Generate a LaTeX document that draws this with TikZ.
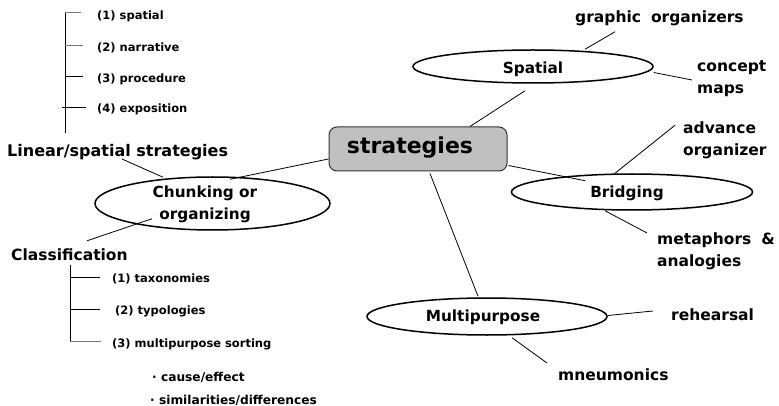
\documentclass[tikz,border=0pt]{standalone}
\usepackage{fontspec}
\setmainfont{DejaVu Sans}[BoldFont={DejaVu Sans Bold}]
\usetikzlibrary{shapes.geometric,calc}
\definecolor{boxgray}{RGB}{192,192,192}
\definecolor{tickgray}{RGB}{120,120,120}
\tikzset{
  ell/.style={draw, ellipse, line width=1.5pt, inner sep=0pt},
  lbl/.style={inner sep=0pt, anchor=west, align=left, font=\bfseries\fontsize{15.5}{22}\selectfont},
  small/.style={inner sep=0pt, anchor=west, font=\bfseries\fontsize{11.5}{14}\selectfont},
  etext/.style={inner sep=0pt, align=center, font=\bfseries\fontsize{15.3}{22}\selectfont},
  conn/.style={line width=0.8pt},
  tree/.style={line width=1pt},
}
\begin{document}
\begin{tikzpicture}[x=1pt,y=-1pt]
\useasboundingbox (0,0) rectangle (779,406);

% central box
\node[draw=black!80, line width=1pt, fill=boxgray, rounded corners=8pt,
      minimum width=178pt, minimum height=44pt, inner sep=0pt] (box) at (418,149) {};
\node[inner sep=0pt, font=\bfseries\fontsize{22}{26}\selectfont] (boxT) at (410,148) {strategies};

% ellipses
\node[ell, minimum width=240pt, minimum height=33pt] (spatial) at (533,66.5) {};
\node[etext] (spatialT) at (533,69) {Spatial};
\node[ell, minimum width=241pt, minimum height=36pt] (bridging) at (632,192) {};
\node[etext] (bridgingT) at (627,193) {Bridging};
\node[ell, minimum width=235pt, minimum height=53pt] (chunk) at (212.5,203.5) {};
\node[etext] (chunkT) at (205,204) {Chunking or\\organizing};
\node[ell, minimum width=240pt, minimum height=37pt] (multi) at (487,316.5) {};
\node[etext] (multiT) at (483,317) {Multipurpose};

% right-side labels
\node[lbl] (graphic) at (575,18) {graphic\hspace{0.3em} organizers};
\node[lbl] (concept) at (697,79) {concept\\maps};
\node[lbl] (advance) at (683,140) {advance\\organizer};
\node[lbl] (metaphors) at (657,251) {metaphors\hspace{0.3em} \&\\analogies};
\node[lbl] (rehearsal) at (671,315) {rehearsal};
\node[lbl] (mneumonics) at (558,375) {mneumonics};

% left-side labels
\node[lbl, font=\bfseries\fontsize{16}{20}\selectfont] (linear) at (7,152) {Linear/spatial strategies};
\node[lbl, font=\bfseries\fontsize{15.5}{18}\selectfont] (classif) at (11,255) {Classification};

\node[small] (s1) at (97,16) {(1) spatial};
\node[small] (s2) at (97,48) {(2) narrative};
\node[small] (s3) at (97,79) {(3) procedure};
\node[small] (s4) at (97,109) {(4) exposition};

\node[small] (c1) at (112,279) {(1) taxonomies};
\node[small] (c2) at (115,311) {(2) typologies};
\node[small] (c3) at (112,344) {(3) multipurpose sorting};
\node[small, font=\bfseries\fontsize{12.2}{14}\selectfont] (b1) at (152,377) {· cause/effect};
\node[small, font=\bfseries\fontsize{12.2}{14}\selectfont] (b2) at (150,400) {· similarities/differences};

% connectors
\draw[conn] ($(box.north)+(52,0)$) -- ($(spatial.south)+(-8,7)$);
\draw[conn] ($(spatial.north)+(52,0)$) -- ($(graphic.south west)+(40,6)$);
\draw[conn] ($(spatial.east)+(0,6)$) -- ($(concept.west)+(-5,1)$);
\draw[conn] ($(box.south east)+(1,-6)$) -- ($(bridging.north west)+(39,2)$);
\draw[conn] ($(bridging.north)+(-17,0)$) -- ($(advance.north west)+(-8,4)$);
\draw[conn] ($(bridging.south)+(-27,0)$) -- ($(metaphors.west)+(-10,-18)$);
\draw[conn] ($(box.south)+(12,2)$) -- ($(multi.north)+(-9,-1)$);
\draw[conn] ($(multi.east)+(0,-1)$) -- ($(rehearsal.west)+(-18,-4)$);
\draw[conn] ($(multi.south)+(25,2)$) -- ($(mneumonics.west)+(-11,-12)$);
\draw[conn] ($(box.west)+(0,10)$) -- ($(chunk.north)+(17.5,3)$);
\draw[conn] ($(linear.south west)+(115,-1)$) -- ($(chunk.north)+(-49.5,1)$);
\draw[conn] ($(chunk.south)+(-60.5,-12)$) -- ($(classif.north west)+(76,-8)$);

% tree for linear/spatial strategies
\draw[tree] (65,12) -- (65,133);
\draw[tree, tickgray] (65,13) -- (81,13);
\draw[tree, tickgray] (65,46) -- (83,46);
\draw[tree] (65,77) -- (83,77);
\draw[tree] (62,108) -- (86,108);

% tree for classification
\draw[tree] (70,265) -- (70,341);
\draw[tree] (70,277) -- (100,277);
\draw[tree] (70,309) -- (100,309);
\draw[tree, tickgray] (70,341) -- (101,341);
\end{tikzpicture}
\end{document}
